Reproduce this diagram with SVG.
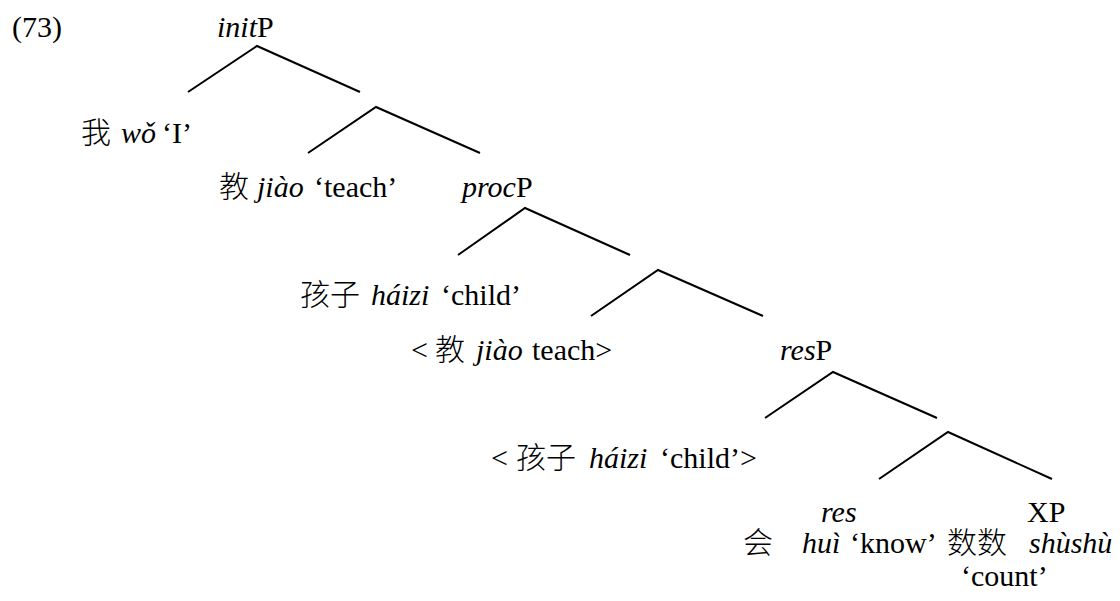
<svg xmlns="http://www.w3.org/2000/svg" width="1120" height="601" viewBox="0 0 1120 601">
<style>
text{font-family:"Liberation Serif","Noto Sans CJK SC",serif;font-size:30px;fill:#000}
.i{font-style:italic}
.c{font-family:"Noto Sans CJK SC",sans-serif;font-size:30px;font-weight:300}
.edge{stroke:#000;stroke-width:2;fill:none;stroke-linecap:butt}
</style>
<rect width="1120" height="601" fill="#fff"/>
<text id="ex" x="12" y="37">(73)</text>
<g id="connectors">
<polyline class="edge" points="188,92 257,46 360,92"/>
<polyline class="edge" points="308,153 376,107 480,153"/>
<polyline class="edge" points="458,255 525,208 630,255"/>
<polyline class="edge" points="591,316 658,270 763,316"/>
<polyline class="edge" points="765,418 833,372 937,418"/>
<polyline class="edge" points="879,479 948,432 1052,479"/>
</g>
<g id="n-initP"><text x="217" y="37"><tspan class="i">init</tspan>P</text></g>
<g id="n-wo"><text y="143"><tspan class="c" x="81">我</tspan><tspan class="i" x="121">wǒ</tspan><tspan x="162">‘I’</tspan></text></g>
<g id="n-jiao"><text y="197"><tspan class="c" x="219">教</tspan><tspan class="i" x="257">jiào</tspan><tspan x="314">‘teach’</tspan></text></g>
<g id="n-procP"><text x="462" y="197"><tspan class="i">proc</tspan>P</text></g>
<g id="n-haizi"><text y="305"><tspan class="c" x="300">孩子</tspan><tspan class="i" x="371">háizi</tspan><tspan x="441">‘child’</tspan></text></g>
<g id="n-jiao-trace"><text y="360"><tspan x="411">&lt;</tspan><tspan class="c" x="435">教</tspan><tspan class="i" x="476">jiào</tspan><tspan x="532">teach&gt;</tspan></text></g>
<g id="n-resP"><text x="780" y="360"><tspan class="i">res</tspan>P</text></g>
<g id="n-haizi-trace"><text y="468"><tspan x="491">&lt;</tspan><tspan class="c" x="516">孩子</tspan><tspan class="i" x="589">háizi</tspan><tspan x="660">‘child’&gt;</tspan></text></g>
<g id="n-res"><text class="i" x="821" y="522">res</text><text y="553"><tspan class="c" x="743">会</tspan><tspan class="i" x="802">huì</tspan><tspan x="850">‘know’</tspan><tspan class="c" x="947">数数</tspan></text></g>
<g id="n-XP"><text x="1027" y="522">XP</text><text class="i" x="1029" y="553">shùshù</text><text x="961" y="586">‘count’</text></g>
</svg>
